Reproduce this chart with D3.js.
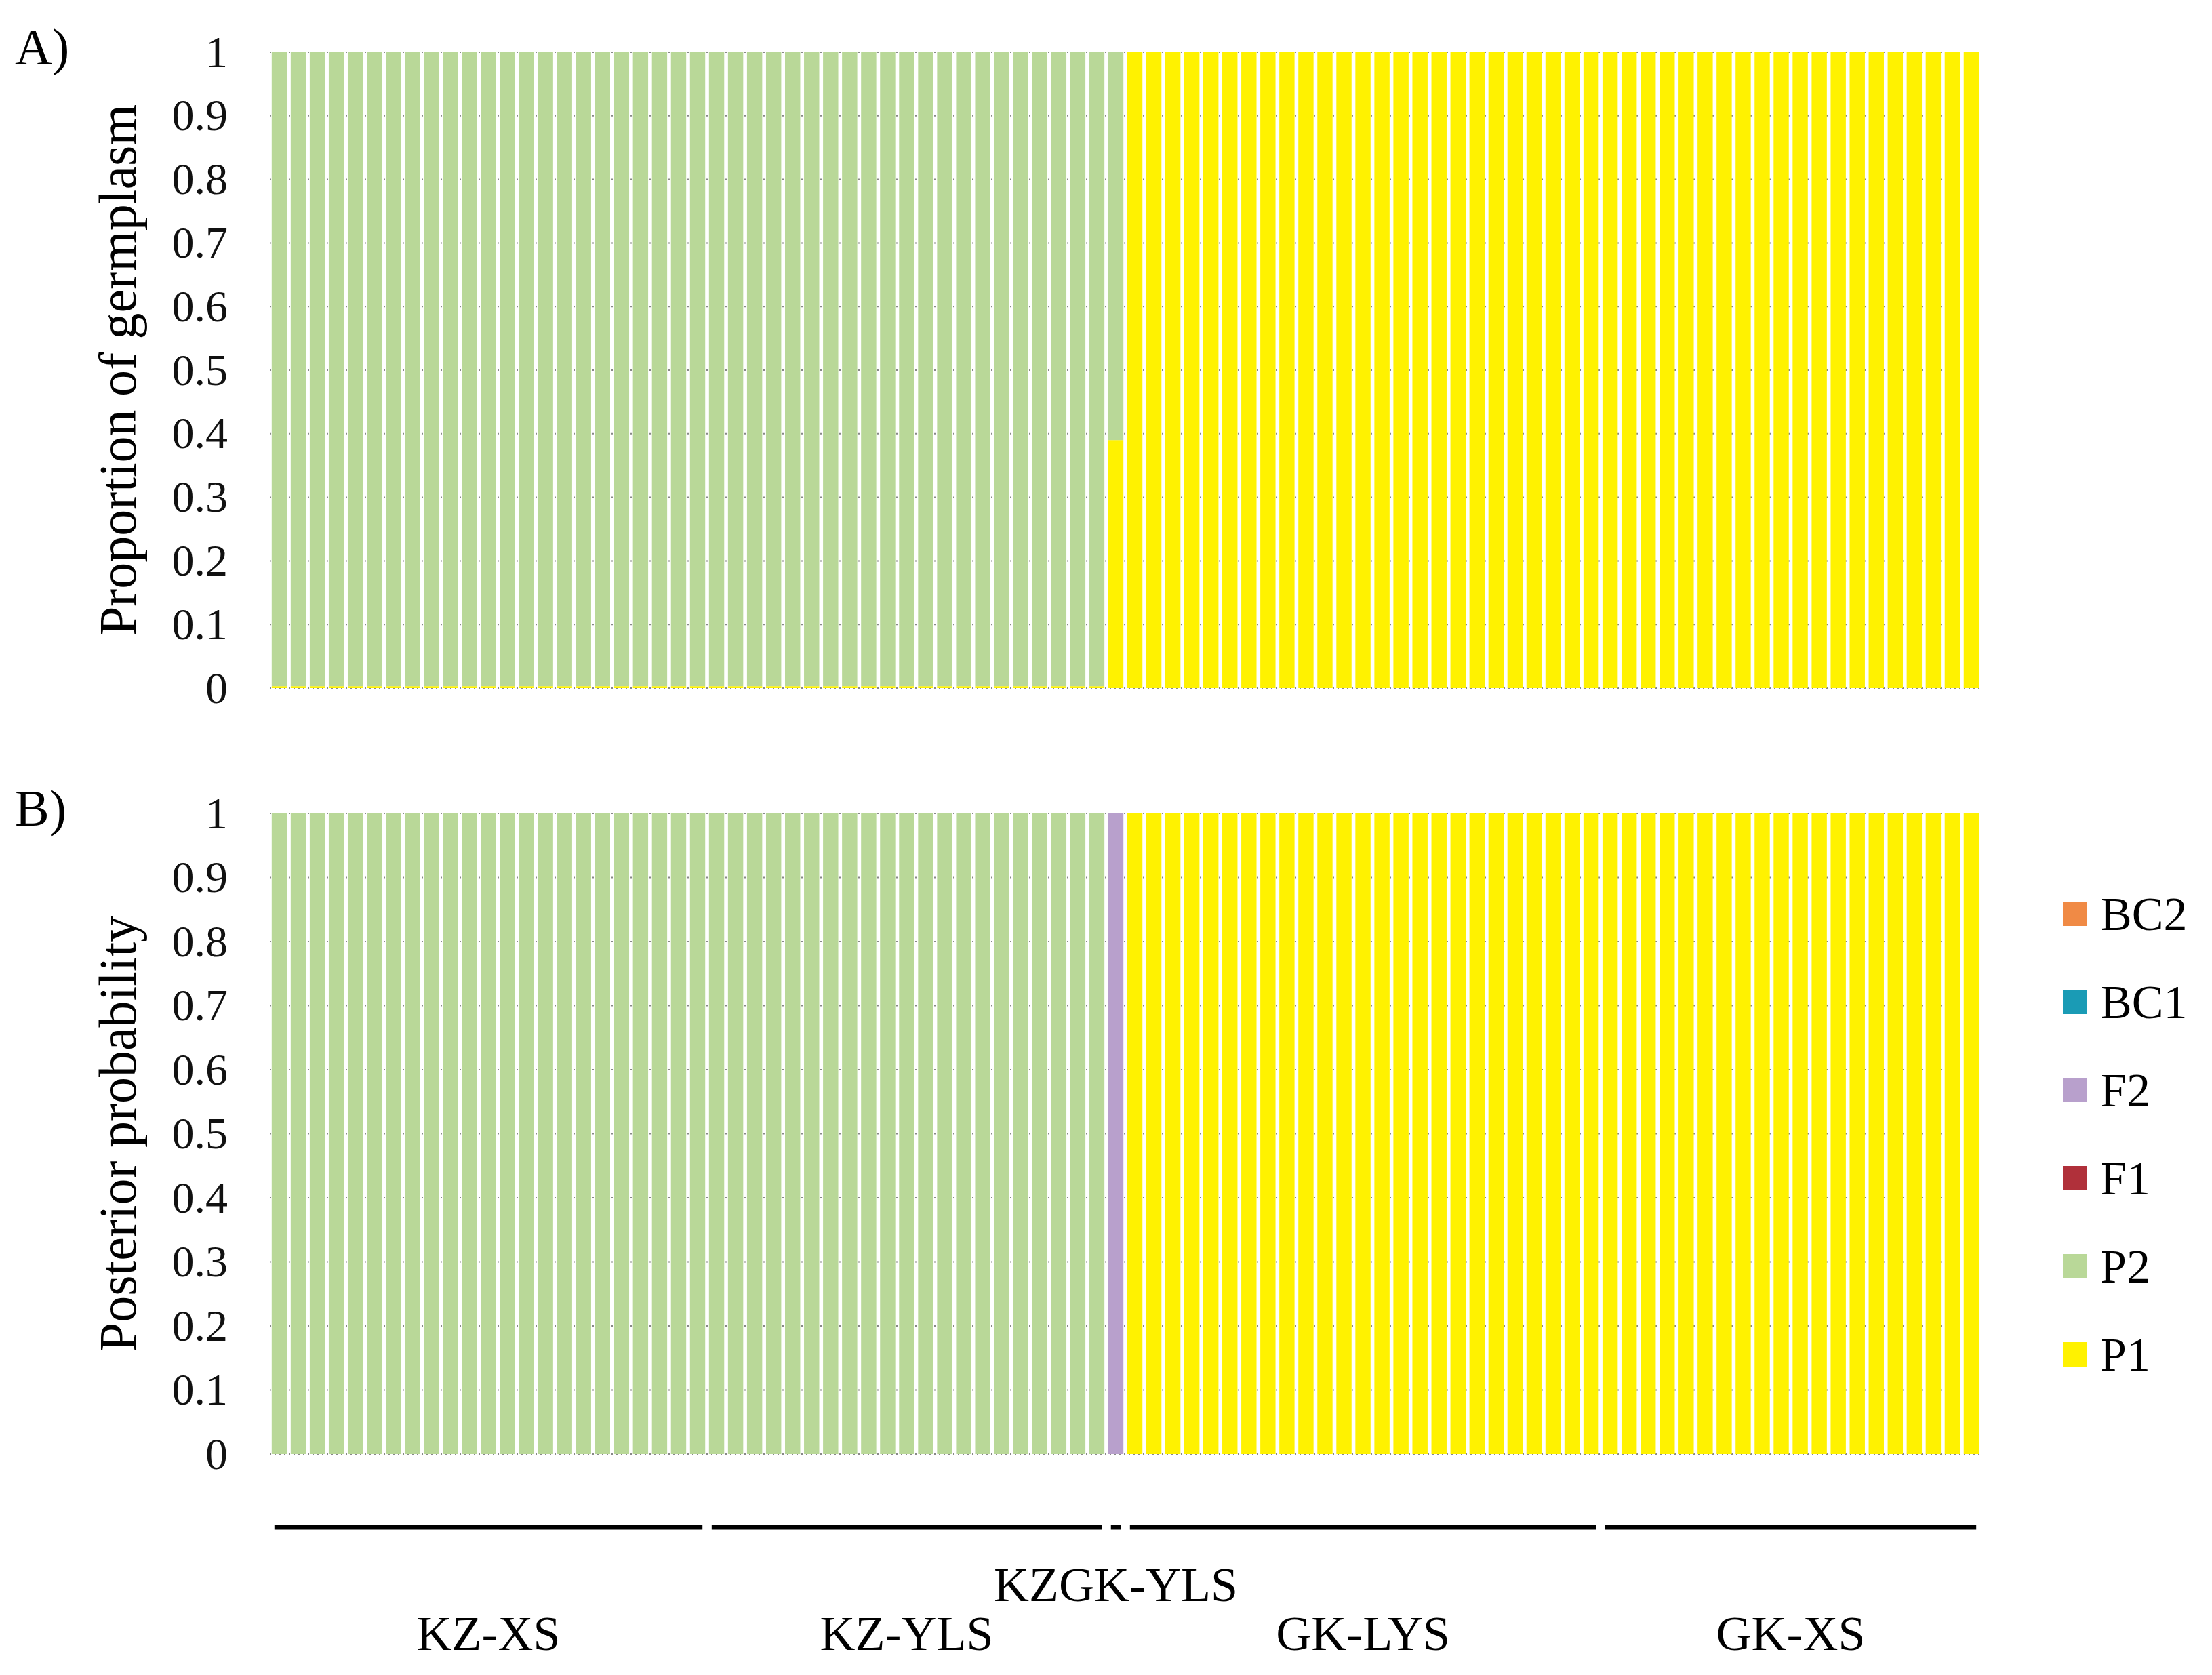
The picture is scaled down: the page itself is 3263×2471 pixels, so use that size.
<!DOCTYPE html><html><head><meta charset="utf-8"><script src="https://cdn.jsdelivr.net/npm/d3@7"></script>
<style>body{margin:0;background:#fff}text{font-family:"Liberation Serif","DejaVu Serif",serif}</style></head><body><svg id="c" width="3263" height="2471"></svg>
<script>
const groups=["KZ-XS","KZ-YLS","KZGK-YLS","GK-LYS","GK-XS"];
const groupSizes=[23,21,1,25,20];
const classes=["P1","P2","F1","F2","BC1","BC2"];
const colors=["#fff200","#b9d898","#b0303a","#b8a0cc","#1a9bb5","#f08a45"];
const yTicks=[0,0.1,0.2,0.3,0.4,0.5,0.6,0.7,0.8,0.9,1];
// panel A: proportion P1 (yellow) per individual; rest P2
const propP1=[].concat(Array(44).fill(0.003),[0.39],Array(45).fill(1));
// panel B: posterior class per individual
const postClass=[].concat(Array(44).fill("P2"),["F2"],Array(45).fill("P1"));
const N=propP1.length;
const svg=d3.select("#c");
const x=d3.scaleBand().domain(d3.range(N)).range([398,2922]).paddingInner(0.2).paddingOuter(0.1);
function panel(y0,y1,label,title,data){
  const y=d3.scaleLinear().domain([0,1]).range([y1,y0]);
  const g=svg.append("g");
  g.selectAll("line.grid").data(yTicks).join("line").attr("x1",398).attr("x2",2922)
   .attr("y1",d=>y(d)).attr("y2",d=>y(d)).attr("stroke","#888").attr("stroke-width",2).attr("stroke-dasharray","2,5");
  data.forEach((segs,i)=>{let acc=0;segs.forEach(s=>{g.append("rect").attr("x",x(i)).attr("width",x.bandwidth())
    .attr("y",y(acc+s.v)).attr("height",y(acc)-y(acc+s.v)).attr("fill",colors[classes.indexOf(s.c)]);acc+=s.v;});});
  const ax=g.append("g").attr("transform","translate(398,0)").call(d3.axisLeft(y).tickValues(yTicks).tickSize(0).tickPadding(62).tickFormat(d3.format("~g")));
  ax.select(".domain").remove();ax.selectAll("text").attr("font-size",66).attr("font-family","Liberation Serif").attr("fill","#111");
  g.append("text").attr("transform",`translate(200,${(y0+y1)/2}) rotate(-90)`).attr("text-anchor","middle").attr("font-size",78).text(title);
  g.append("text").attr("x",22).attr("y",y0+18).attr("font-size",76).text(label);
}
panel(77,1015,"A)","Proportion of germplasm",propP1.map(p=>[{c:"P1",v:p},{c:"P2",v:1-p}]));
panel(1200,2145,"B)","Posterior probability",postClass.map(c=>[{c:c,v:1}]));
const leg=["BC2","BC1","F2","F1","P2","P1"];
leg.forEach((c,i)=>{const yy=1348+i*130;
  svg.append("rect").attr("x",3043).attr("y",yy-18).attr("width",36).attr("height",36).attr("fill",colors[classes.indexOf(c)]);
  svg.append("text").attr("x",3098).attr("y",yy+24).attr("font-size",70).text(c);});
let start=0;
groups.forEach((gname,i)=>{const s=start,e=start+groupSizes[i]-1;start+=groupSizes[i];
  const xa=x(s)+4,xb=x(e)+x.bandwidth()-4;
  svg.append("line").attr("x1",xa).attr("x2",xb).attr("y1",2253).attr("y2",2253).attr("stroke","#000").attr("stroke-width",7);
  svg.append("text").attr("x",(xa+xb)/2).attr("y",gname==="KZGK-YLS"?2362:2434).attr("text-anchor","middle").attr("font-size",72).text(gname);});
</script></body></html>
